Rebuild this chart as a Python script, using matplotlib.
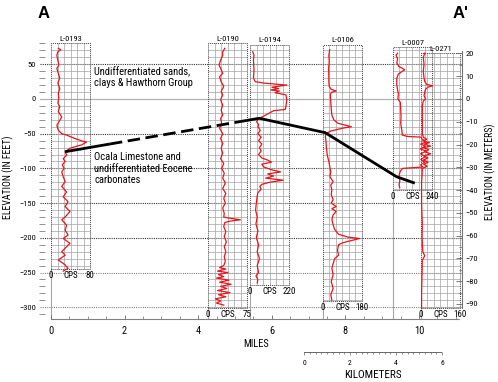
import numpy as np
import matplotlib.pyplot as plt
from matplotlib.patches import Rectangle

plt.rcParams['font.family'] = ['Roboto Condensed', 'Archivo Narrow', 'Liberation Sans', 'DejaVu Sans']

FT_PER_M = 3.2808
BOX_W = 1.06  # width of a log panel, in miles

# wells along the section
well_names = ['L-0193', 'L-0190', 'L-0194', 'L-0106', 'L-0007', 'L-0271']
well_miles = [0.0, 4.27, 5.41, 7.39, 9.29, 10.05]
box_top = [80, 80, 78, 78, 75, 66]
box_bottom = [-245, -301, -268, -291, -131, -301]
cps_max = [80, 75, 220, 180, 240, 160]

# gamma logs: elevation (ft) and counts per second
l0193_ft = [73, 71, 68, 63, 56, 49, 44, 37, 30, 23, 15, 8, 1, -6, -11, -18, -26, -33, -38, -45, -50, -52,
            -57, -61, -62, -66, -71, -76, -81, -86, -90, -95, -100, -105, -112, -119, -126, -134, -141,
            -148, -155, -162, -170, -174, -182, -189, -196, -201, -208, -215, -220, -225, -232, -239,
            -244, -248]
l0193_cps = [15, 20, 14, 12, 14, 16, 12, 15, 18, 14, 18, 15, 16, 14, 18, 15, 22, 16, 12, 15, 22, 32,
             49, 66, 73, 63, 39, 29, 32, 25, 29, 23, 27, 22, 25, 29, 22, 32, 25, 35, 29, 39, 29, 22,
             32, 29, 35, 25, 39, 29, 22, 29, 15, 29, 35, 25]

l0190_ft = [73, 68, 63, 56, 49, 44, 37, 32, 25, 18, 11, 6, -1, -9, -16, -23, -28, -35, -42, -50,
            -57, -64, -71, -78, -86, -93, -100, -107, -114, -121, -129, -136, -143, -150, -157, -165,
            -170, -171, -174, -176, -178, -184, -191, -198, -206, -213, -220, -227, -234, -240,
            -243, -245, -248, -250, -253, -256, -258, -261, -264, -267, -270, -273, -276, -279,
            -282, -285, -288, -291, -294, -297]
l0190_cps = [32, 28, 28, 24, 21, 24, 28, 22, 25, 30, 25, 28, 24, 28, 25, 28, 24, 26, 22, 28,
             24, 28, 25, 28, 24, 30, 26, 31, 28, 33, 28, 34, 30, 33, 28, 31, 30, 35, 62, 42,
             32, 30, 34, 31, 35, 31, 34, 31, 33, 30,
             22, 34, 18, 38, 20, 30, 16, 40, 22, 44, 24, 36, 18, 42,
             20, 34, 14, 24, 16, 30]

l0194_ft = [68, 63, 56, 42, 30, 25, 23, 20, 17, 15, 13, 11.5, 9, 6, -1, -11, -15, -17, -21, -25, -28,
            -33, -37, -40, -45, -50, -55, -60, -65, -70, -75, -80, -85, -88, -91, -94, -98, -102, -105,
            -108, -111, -114, -117, -120, -123, -126, -130, -135, -140, -150, -160, -170, -180, -190,
            -200, -210, -220, -230, -240, -250, -255, -260, -265]
l0194_cps = [15, 22, 19, 22, 19, 29, 75, 207, 123, 161, 117, 165, 141, 202, 207, 202, 198, 132, 103, 75,
             46, 37, 48, 44, 57, 44, 62, 48, 66, 53, 62, 48, 66, 99, 121, 66, 77, 121, 172, 99, 132,
             88, 187, 110, 66, 55, 62, 44, 40, 35, 31, 40, 33, 44, 35, 48, 40, 53, 40, 48, 33, 44, 40]

l0106_ft = [71, 63, 54, 44, 35, 25, 18, 14, 11.5, 9.6, 6, -4, -13, -23, -30, -35, -37.5, -40, -42, -46,
            -49.5, -54, -61, -71, -81, -90, -97, -105, -112, -119, -124, -131, -138, -145, -150, -155,
            -158, -162, -167, -174, -181, -188, -195, -199, -201, -204, -207, -210, -218, -225, -230,
            -237, -244, -253, -263, -273, -282, -290]
l0106_cps = [31, 27, 29, 26, 27, 27, 29, 38, 61, 38, 34, 36, 38, 41, 50, 69, 101, 131, 92, 38,
             15, 11, 14, 16, 20, 27, 31, 36, 32, 47, 36, 41, 38, 47, 38, 61,
             41, 61, 47, 41, 47, 54, 72, 115, 169, 131, 92, 72, 67, 72, 54,
             47, 41, 47, 38, 47, 36, 41]

l0007_ft = [66, 63, 58, 52, 47, 44, 42, 39, 36, 30, 20, 13, 8, 0, -5, -15, -25, -35, -45, -52, -54,
            -55, -58, -62, -65, -68, -72, -75, -79, -83, -87, -91, -95, -98, -100, -103, -108, -113,
            -118, -123, -128]
l0007_cps = [29, 19, 29, 24, 36, 60, 72, 53, 34, 24, 24, 29, 34, 31, 46, 48, 50, 48, 55, 58, 90,
             175, 180, 204, 170, 200, 168, 205, 170, 200, 172, 195, 170, 185, 60, 48, 40, 38,
             43, 38, 42]

l0271_ft = [66, 60, 50, 40, 30, 25, 21, 19, 17, 14, 10, 5, 0, -3, -10, -20, -30, -40, -50, -55, -58,
            -60, -63, -65, -68, -70, -73, -76, -79, -82, -85, -88, -91, -94, -97, -100, -110, -120,
            -150, -180, -200, -220, -226, -232, -250, -280, -300]
l0271_cps = [16, 10, 13, 10, 13, 16, 24, 48, 29, 19, 16, 13, 19, 10, 6, 6, 6, 6, 6, 10, 24,
             8, 35, 13, 40, 10, 32, 16, 40, 13, 29, 10, 30, 12, 26, 6, 5, 3,
             3, 6, 5, 8, 16, 6, 5, 3, 3]

log_ft = [l0193_ft, l0190_ft, l0194_ft, l0106_ft, l0007_ft, l0271_ft]
log_cps = [l0193_cps, l0190_cps, l0194_cps, l0106_cps, l0007_cps, l0271_cps]

# top of Ocala Limestone correlation
corr_miles = [0.38, 5.66, 7.45, 9.39, 9.85]
corr_ft = [-76, -27.8, -48.5, -112, -120.6]
dash_from, dash_to = 1.6, 5.35

fig = plt.figure(figsize=(4.98, 3.82), dpi=100)
ax = fig.add_axes([45/498, 1-319/382, (462-45)/498, (319-40)/382])
ax.set_xlim(-0.163, 11.168)
ax.set_ylim(-317, 85)

for s in ['left', 'top', 'right']:
    ax.spines[s].set_visible(False)
ax.spines['bottom'].set_bounds(0, 11.1)
ax.spines['bottom'].set_linestyle((0, (1, 1)))
ax.spines['bottom'].set_color('0.5')
ax.spines['bottom'].set_linewidth(0.8)

ax.set_xticks([0, 2, 4, 6, 8, 10])
ax.set_xticks(np.arange(0, 11.01, 0.5), minor=True)
ax.tick_params(axis='x', which='major', direction='in', length=3, width=0.6, color='0.4',
               labelsize=7.5, pad=5)
ax.tick_params(axis='x', which='minor', direction='in', length=2, width=0.5, color='0.4')
ax.set_yticks(np.arange(-300, 51, 50))
ax.set_yticks(np.arange(-310, 81, 10), minor=True)
ax.tick_params(axis='y', which='major', length=0, labelsize=6, pad=6.5)
ax.tick_params(axis='y', which='minor', length=4, width=0.5, color='0.4')

# horizontal reference lines every 50 ft
for y in range(-300, 51, 50):
    if y == 0:
        ax.plot([-0.3, 11.17], [y, y], color='0.7', lw=0.9, clip_on=False, zorder=1)
    elif y in (-250, -300):
        ax.plot([-0.3, 11.17], [y, y], color='0.5', lw=0.8, ls=(0, (1, 1)), clip_on=False, zorder=1)
    else:
        ax.plot([-0.3, 11.17], [y, y], color='0.2', lw=0.8, ls=(0, (1, 1)), clip_on=False, zorder=1)

# log panels
for i, name in enumerate(well_names):
    x0 = well_miles[i]
    top, bot = box_top[i], box_bottom[i]
    for k in range(1, 6):
        ax.plot([x0 + BOX_W*k/6]*2, [bot, top], color='0.64', lw=0.5, zorder=1)
    for yy in np.arange(np.ceil(bot/10)*10, top, 10):
        ax.plot([x0, x0 + BOX_W], [yy, yy], color='0.64', lw=0.5, zorder=1)
    ax.add_patch(Rectangle((x0, bot), BOX_W, top - bot, fill=False, ls=(0, (1, 1)),
                           lw=0.7, ec='0.25', zorder=2))
    ax.plot([x0, x0], [-317, bot], color='0.65', lw=0.8, zorder=1)
    ax.text(x0 + BOX_W/2, top + 2, name, ha='center', va='bottom', fontsize=6)
    ax.text(x0, bot - 3, '0', ha='center', va='top', fontsize=6.5)
    ax.text(x0 + BOX_W/2, bot - 3, 'CPS', ha='center', va='top', fontsize=6.5)
    ax.text(x0 + BOX_W, bot - 3, str(cps_max[i]), ha='center', va='top', fontsize=6.5)
    xs = x0 + BOX_W*np.array(log_cps[i])/cps_max[i]
    ax.plot(xs, log_ft[i], color='#e8141c', lw=0.9, zorder=3)

# correlation line, dashed where it is inferred
cm = np.array(corr_miles)
cf = np.array(corr_ft)
y_a = np.interp(dash_from, cm, cf)
y_b = np.interp(dash_to, cm, cf)
ax.plot([cm[0], dash_from], [cf[0], y_a], color='k', lw=2, solid_capstyle='butt', zorder=4)
ax.plot([dash_from, dash_to], [y_a, y_b], color='k', lw=2, ls=(0, (4.5, 2)), zorder=4)
keep = cm > dash_to
ax.plot(np.r_[dash_to, cm[keep]], np.r_[y_b, cf[keep]], color='k', lw=2, zorder=4)

ax.text(1.17, 47, 'Undifferentiated sands,\nclays & Hawthorn Group', fontsize=7.6,
        va='top', ha='left', linespacing=1.15)
ax.text(1.17, -77, 'Ocala Limestone and\nundifferentiated Eocene\ncarbonates', fontsize=7.6,
        va='top', ha='left', linespacing=1.15)

# meters axis
ax2 = ax.twinx()
ax2.set_ylim(np.array(ax.get_ylim())/FT_PER_M)
for s in ['left', 'top', 'bottom']:
    ax2.spines[s].set_visible(False)
ax2.spines['right'].set_bounds(-92, 21)
ax2.spines['right'].set_color('0.45')
ax2.spines['right'].set_linewidth(0.8)
ax2.set_yticks(np.arange(-90, 21, 10))
ax2.set_yticks(np.arange(-90, 21, 5), minor=True)
ax2.tick_params(axis='y', which='major', direction='in', length=4, width=0.6, color='0.4',
                labelsize=6, pad=2.5)
ax2.tick_params(axis='y', which='minor', direction='in', length=2, width=0.5, color='0.4')

fig.text(8/498, 1-177/382, 'ELEVATION (IN FEET)', rotation=90, ha='center', va='center', fontsize=7)
fig.text(490/498, 1-172/382, 'ELEVATION (IN METERS)', rotation=90, ha='center', va='center', fontsize=7)
fig.text(256/498, 1-344/382, 'MILES', ha='center', va='center', fontsize=7.5)
fig.text(43.5/498, 1-18.5/382, 'A', ha='center', va='baseline', fontsize=12, fontweight='bold',
         family=['Liberation Sans', 'DejaVu Sans'])
fig.text(461/498, 1-18.5/382, "A'", ha='center', va='baseline', fontsize=12, fontweight='bold',
         family=['Liberation Sans', 'DejaVu Sans'])

# kilometre scale bar
axk = fig.add_axes([304/498, 1-352/382, 138/498, 0.001])
axk.set_xlim(0, 6)
axk.set_yticks([])
for s in ['left', 'top', 'right']:
    axk.spines[s].set_visible(False)
axk.spines['bottom'].set_linestyle((0, (1, 1)))
axk.spines['bottom'].set_color('0.4')
axk.spines['bottom'].set_linewidth(0.7)
axk.set_xticks([0, 2, 4, 6])
axk.set_xticks(np.arange(0, 6.01, 0.25), minor=True)
axk.tick_params(axis='x', which='major', length=2, width=0.5, color='0.4', labelsize=5.5, pad=4)
axk.tick_params(axis='x', which='minor', length=1.5, width=0.5, color='0.4')
axk.set_xlabel('KILOMETERS', fontsize=8, labelpad=3)

fig.savefig('out.png', dpi=100)
